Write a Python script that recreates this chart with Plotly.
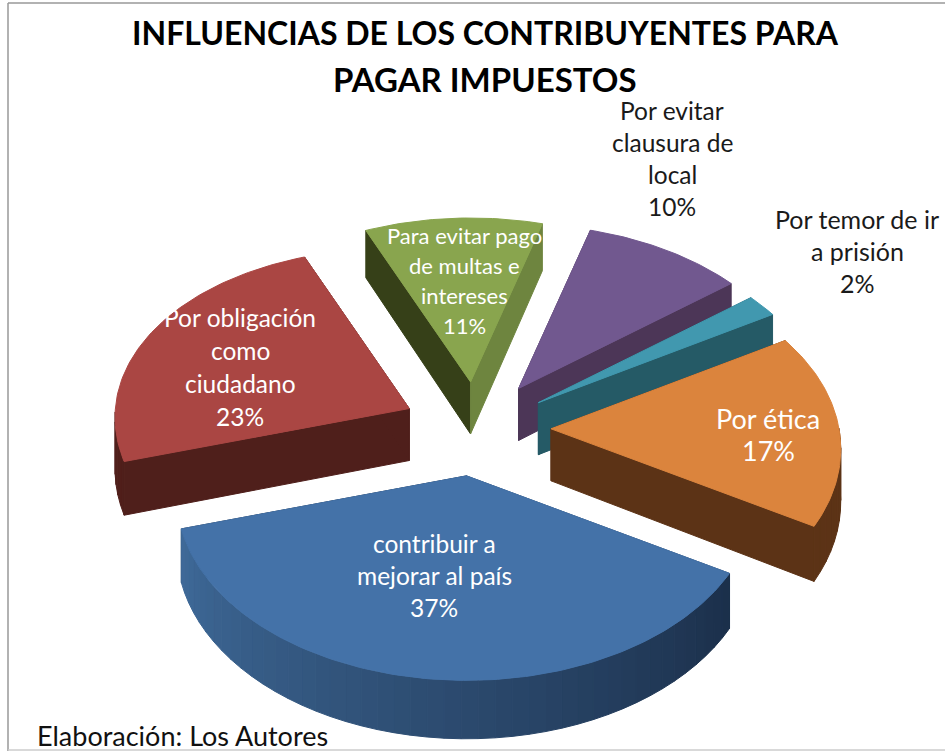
import math
import plotly.graph_objects as go

# --- data ---
categories = ["Por evitar clausura de local", "Por temor de ir a prisión", "Por ética",
              "contribuir a mejorar al país", "Por obligación como ciudadano",
              "Para evitar pago de multas e intereses"]
percent = [10, 2, 17, 37, 23, 11]
label_lines = [["Por evitar", "clausura de", "local"], ["Por temor de ir", "a prisión"], ["Por ética"],
               ["contribuir a", "mejorar al país"], ["Por obligación", "como", "ciudadano"],
               ["Para evitar pago", "de multas e", "intereses"]]
title_lines = ["INFLUENCIAS DE LOS CONTRIBUYENTES PARA", "PAGAR IMPUESTOS"]
source_note = "Elaboración: Los Autores"

# --- style / layout ---
W, H = 945, 751
CX, CY = 471, 428
RA, RB, PERSP, DEPTH = 288, 182, 0.11, 52
START = 16.0
explode = [78, 78, 78, 70, 67, 67]
nudge = [(4, 5), (3, 5), (2, 1), (4, 0), (-1, 0), (4, 0)]
bulge = [0, 0, 0, 0, 0.035, 0]
top_col = ["#71588F", "#4198AF", "#DB843D", "#4472A8", "#AA4643", "#89A54E"]
start_wall = ["#4C3657", "#255A66", "#5C3316", "#2C4A70", "#4F1F1B", "#364018"]
end_wall = ["#4C3657", "#255A66", "#5C3316", "#1B2F4A", "#4F1F1B", "#6E853F"]
arc_from = ["#4C3657", "#255A66", "#5C3316", "#1B2F4A", "#4F1F1B", "#6E853F"]
arc_to = ["#4C3657", "#255A66", "#5C3316", "#3F6A99", "#5A2522", "#364018"]
draw_order = [5, 4, 0, 1, 2, 3]
label_anchor = [(672, 110, "#1A1A1A", 24.5), (857, 219, "#1A1A1A", 25), (768, 418, "#FFFFFF", 27),
                (434, 543, "#FFFFFF", 24.5), (240, 317, "#FFFFFF", 24.5), (464, 235, "#FFFFFF", 22)]
line_step = [32, 32, 32, 32, 33, 30]
FONT = "Lato"


def hex2rgb(h):
    return tuple(int(h[i:i + 2], 16) for i in (1, 3, 5))


def mix(a, b, t):
    ra, rb = hex2rgb(a), hex2rgb(b)
    return "rgb(%d,%d,%d)" % tuple(round(ra[i] + (rb[i] - ra[i]) * t) for i in range(3))


def project(ax, ay, deg, r=1.0, drop=0.0):
    th = math.radians(deg)
    u, v = r * math.sin(th), -r * math.cos(th)
    w = 1 / (1 - PERSP * v)
    return ax + RA * u * w, ay + RB * v * w + drop * w


def poly(fig, pts, col):
    xs = [p[0] for p in pts] + [pts[0][0]]
    ys = [p[1] for p in pts] + [pts[0][1]]
    fig.add_trace(go.Scatter(x=xs, y=ys, mode="lines", fill="toself", fillcolor=col,
                             line=dict(color=col, width=1), hoverinfo="skip", showlegend=False))


fig = go.Figure()

# angular extents derive from the values
total = sum(percent)
spans, a0 = [], START
for p in percent:
    a1 = a0 + 360 * p / total
    spans.append((a0, a1))
    a0 = a1

for i in draw_order:
    a0, a1 = spans[i]
    mid = math.radians((a0 + a1) / 2)
    ax = CX + explode[i] * math.sin(mid) + nudge[i][0]
    ay = CY - explode[i] * (RB / RA * 1.09) * math.cos(mid) + nudge[i][1]


    def radius(t):
        return 1 + bulge[i] * math.sin(math.pi * t)


    # radial walls
    for ang, col in ((a0, start_wall[i]), (a1, end_wall[i])):
        rim_t, rim_b = project(ax, ay, ang), project(ax, ay, ang, drop=DEPTH)
        poly(fig, [(ax, ay), rim_t, rim_b, (ax, ay + DEPTH)], col)
    # arc wall, shaded by segment; only the part that faces the viewer
    n = max(3, int((a1 - a0) / 3))
    for k in range(n):
        t0, t1 = k / n, (k + 1) / n
        b0 = a0 + (a1 - a0) * t0
        b1 = a0 + (a1 - a0) * t1
        if math.cos(math.radians((b0 + b1) / 2)) > 0:
            continue
        col = mix(arc_from[i], arc_to[i], (k + 0.5) / n)
        poly(fig, [project(ax, ay, b0, radius(t0)), project(ax, ay, b1, radius(t1)),
                   project(ax, ay, b1, radius(t1), DEPTH), project(ax, ay, b0, radius(t0), DEPTH)], col)
    # top face
    m = max(8, int(a1 - a0))
    face = [(ax, ay)] + [project(ax, ay, a0 + (a1 - a0) * k / m, radius(k / m)) for k in range(m + 1)]
    poly(fig, face, top_col[i])

ann = []


def text_line(x, y, s, size, col, anchor="center", bold=False):
    ann.append(dict(x=x, y=y, xref="x", yref="y", text=("<b>%s</b>" % s) if bold else s, showarrow=False,
                    xanchor=anchor, yanchor="middle", font=dict(family=FONT, size=size, color=col)))


for i, lines in enumerate(label_lines):
    x, y, col, size = label_anchor[i]
    for k, s in enumerate(lines + ["%d%%" % percent[i]]):
        text_line(x, y + k * line_step[i], s, size, col)

text_line(485, 32, title_lines[0], 32, "#000000", bold=True)
text_line(485, 79, title_lines[1], 33, "#000000", bold=True)
text_line(35, 735, source_note, 27, "#111111", anchor="left")

fig.update_layout(
    width=W, height=H, margin=dict(l=0, r=0, t=0, b=0), paper_bgcolor="white", plot_bgcolor="white",
    xaxis=dict(range=[0, W], visible=False, fixedrange=True),
    yaxis=dict(range=[H, 0], visible=False, fixedrange=True),
    annotations=ann,
    shapes=[
        dict(type="line", xref="x", yref="y", x0=8, x1=8, y0=3, y1=751, line=dict(color="#999999", width=1.5)),
        dict(type="line", xref="x", yref="y", x0=8, x1=945, y0=3, y1=3, line=dict(color="#999999", width=1.5)),
        dict(type="line", xref="x", yref="y", x0=8, x1=945, y0=750, y1=750, line=dict(color="#CCCCCC", width=1.5)),
    ],
)
fig.write_html("out.html", config={"displayModeBar": False},
               post_script="document.body.style.margin='0';document.body.style.overflow='hidden';")
